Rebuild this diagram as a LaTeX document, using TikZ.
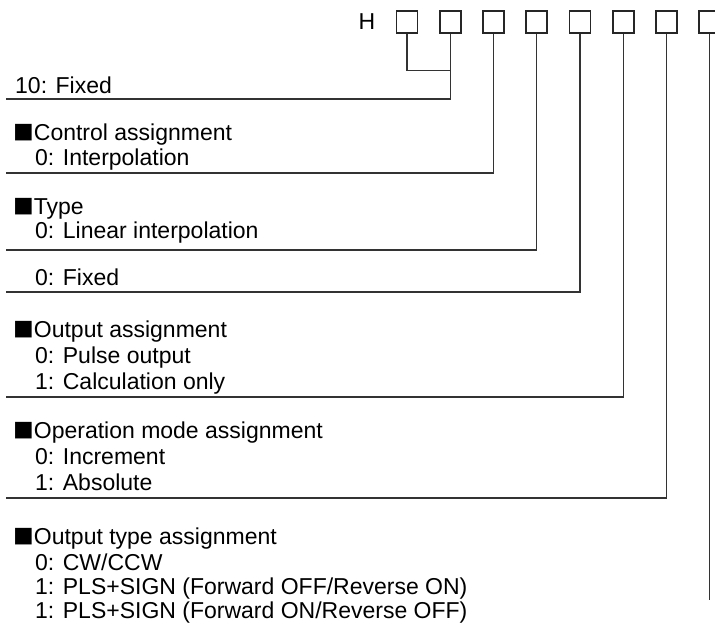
\documentclass[tikz,border=0pt]{standalone}
\usepackage{fontspec}
\setmainfont{Liberation Sans}
\newfontfamily\cjk[Scale=0.9]{Noto Sans CJK JP}
\usetikzlibrary{positioning}

\newcommand{\sqbul}{{\cjk ■}}

\begin{document}
\begin{tikzpicture}[x=1pt,y=-1pt,
  digit/.style={draw=black!85,line width=1.6pt,minimum width=21pt,minimum height=22.5pt,inner sep=0pt},
  lead/.style={draw=black!80,line width=1.2pt},
  txt/.style={anchor=base west,inner sep=0pt,font=\fontsize{23}{27}\selectfont}]
  \useasboundingbox (0,0) rectangle (715,626);
  \clip (0,0) rectangle (715,626);
  % model code boxes
  \node[txt,anchor=base] (h) at (367,30) {H};
  \foreach \i in {1,...,8} {
    \node[digit] (b\i) at ({407+43.25*(\i-1)},22) {};
  }
  % descriptions
  \node[txt] (fixa)   at (15,93)  {10: Fixed};
  \node[txt] (ctl)    at (13,140) {\sqbul Control assignment};
  \node[txt] (ctl0)   at (35,165) {0: Interpolation};
  \node[txt] (typ)    at (13,214) {\sqbul Type};
  \node[txt] (typ0)   at (35,238) {0: Linear interpolation};
  \node[txt] (fixb)   at (35,285) {0: Fixed};
  \node[txt] (out)    at (13,337) {\sqbul Output assignment};
  \node[txt] (out0)   at (35,363) {0: Pulse output};
  \node[txt] (out1)   at (35,389) {1: Calculation only};
  \node[txt] (mode)   at (13,438) {\sqbul Operation mode assignment};
  \node[txt] (mode0)  at (35,464) {0: Increment};
  \node[txt] (mode1)  at (35,490) {1: Absolute};
  \node[txt] (otype)  at (13,544) {\sqbul Output type assignment};
  \node[txt] (otype0) at (35,570) {0: CW/CCW};
  \node[txt] (otype1) at (35,594) {1: PLS+SIGN (Forward OFF/Reverse ON)};
  \node[txt] (otype2) at (35,618) {1: PLS+SIGN (Forward ON/Reverse OFF)};
  % leader lines
  \path (b2.south) ++(0,36.5) coordinate (join);
  \draw[lead] (b1.south) |- (join);
  \foreach \i/\y in {2/99,3/173,4/250,5/292,6/397,7/498} {
    \coordinate (e\i) at (6,\y);
    \draw[lead] (b\i.south) |- (e\i);
  }
  \path (b8.south) ++(0,566) coordinate (e8);
  \draw[lead] (b8.south) -- (e8);
\end{tikzpicture}
\end{document}
